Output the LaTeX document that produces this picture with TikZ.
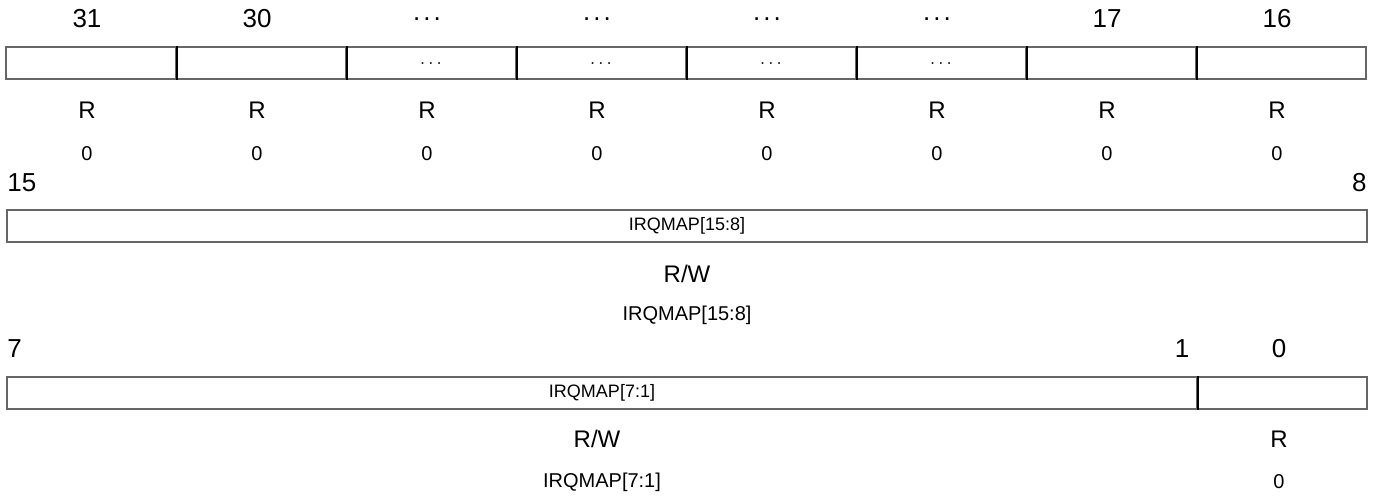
\documentclass[tikz,border=0pt]{standalone}
\usepackage{fontspec}
\setmainfont{Liberation Sans}
\usepackage{tikz}
\usetikzlibrary{calc}
\newcommand{\cellw}{85pt}
\newcommand{\hdots}{.\kern1.5pt.\kern1.5pt.}
\tikzset{
  bitnum/.style={inner sep=0pt,font=\fontsize{13}{15}\selectfont},
  field/.style={draw=black!60,line width=1pt,inner sep=0pt,minimum height=16pt,font=\fontsize{9}{11}\selectfont},
  divider/.style={draw=black,line width=1pt},
  acc/.style={inner sep=0pt,font=\fontsize{12}{14}\selectfont},
  rst/.style={inner sep=0pt,font=\fontsize{10}{12}\selectfont},
  desc/.style={inner sep=0pt,font=\fontsize{10}{12}\selectfont}
}
% one column of the upper register row: name, x, bit, inside, access, reset
\newcommand{\prcol}[6]{
  \node[bitnum] (#1n) at (#2,19) {#3};
  \node[field,minimum width=\cellw] (#1f) at ($(#2,63.5)+(4,0)$) {#4};
  \node[acc] (#1a) at (#2,110) {#5};
  \node[rst] (#1r) at (#2,154) {#6};
}

\begin{document}
\begin{tikzpicture}[x=0.5pt,y=-0.5pt]
\useasboundingbox (0,0) rectangle (1374,496);

% bits 31 .. 16
\prcol{c31}{87}{31}{}{R}{0}
\prcol{c30}{257}{30}{}{R}{0}
\prcol{ca}{427}{\hdots}{$\dots$}{R}{0}
\prcol{cb}{597}{\hdots}{$\dots$}{R}{0}
\prcol{cc}{767}{\hdots}{$\dots$}{R}{0}
\prcol{cd}{937}{\hdots}{$\dots$}{R}{0}
\prcol{c17}{1107}{17}{}{R}{0}
\prcol{c16}{1277}{16}{}{R}{0}
\draw[divider] (c31f.north east) -- (c31f.south east);
\draw[divider] (c30f.north east) -- (c30f.south east);
\draw[divider] (caf.north east) -- (caf.south east);
\draw[divider] (cbf.north east) -- (cbf.south east);
\draw[divider] (ccf.north east) -- (ccf.south east);
\draw[divider] (cdf.north east) -- (cdf.south east);
\draw[divider] (c17f.north east) -- (c17f.south east);

% bits 15 .. 8
\node[bitnum,anchor=west] (b15) at (7,183) {15};
\node[bitnum,anchor=east] (b8) at (1367,183) {8};
\node[field,minimum width=680pt] (hi) at (687,226) {IRQMAP[15:8]};
\node[acc] (hia) at (687,274) {R/W};
\node[desc] (hid) at (687,315) {IRQMAP[15:8]};

% bits 7 .. 0
\node[bitnum,anchor=west] (b7) at (7,349) {7};
\node[bitnum] (b1) at (1182,349) {1};
\node[bitnum] (b0) at (1279,349) {0};
\node[field,minimum width=595pt] (lo) at (602,393) {IRQMAP[7:1]};
\node[field,minimum width=\cellw] (en) at (1282,393) {};
\draw[divider] (lo.north east) -- (lo.south east);
\node[acc] (loa) at (597,439) {R/W};
\node[acc] (ena) at (1279,439) {R};
\node[desc] (lod) at (602,482) {IRQMAP[7:1]};
\node[rst] (enr) at (1279,482) {0};

\end{tikzpicture}
\end{document}
